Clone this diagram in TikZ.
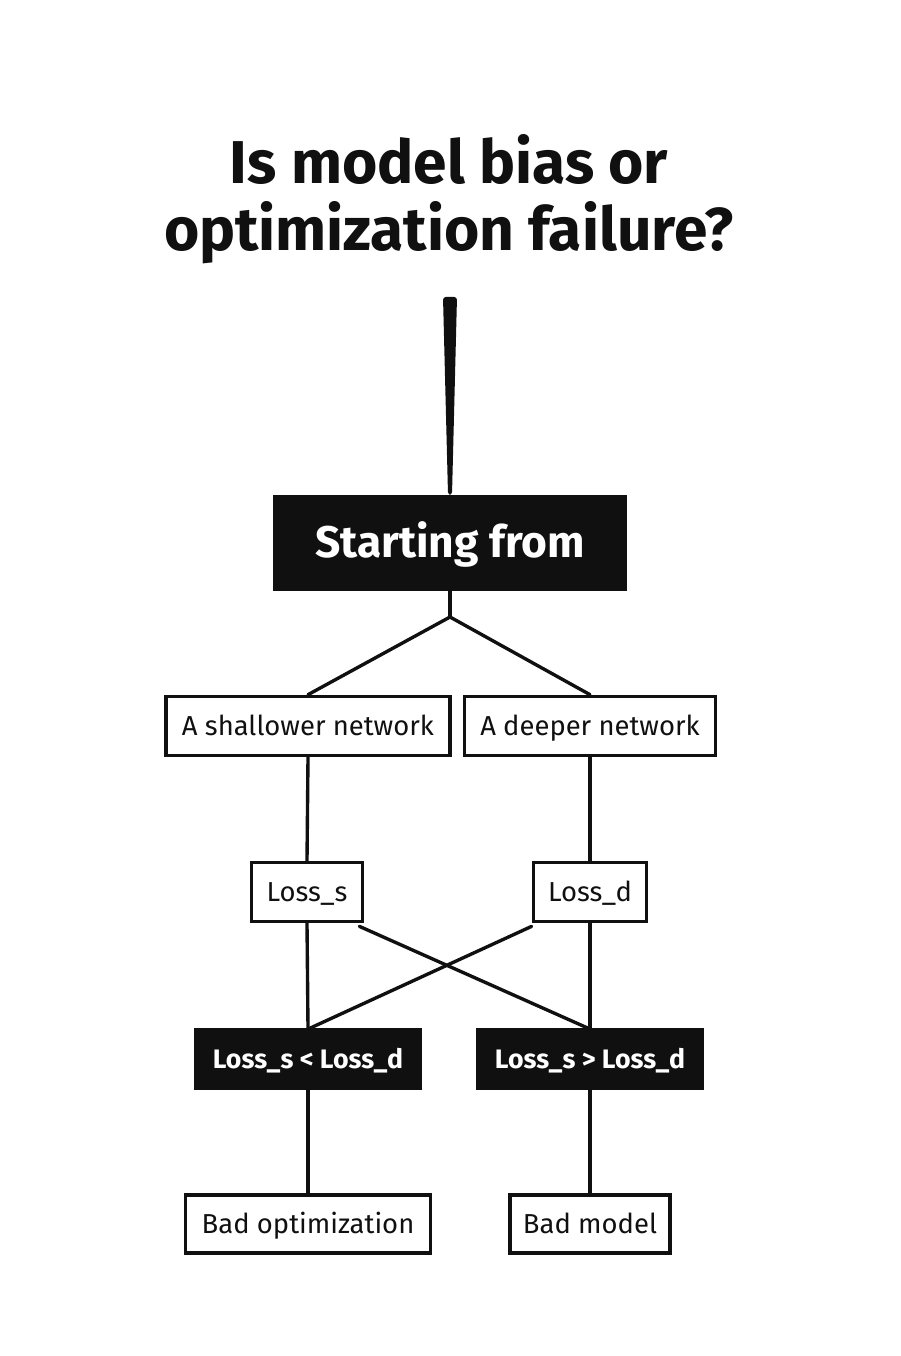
\documentclass[tikz,border=0pt]{standalone}
\usepackage{fontspec}
\setmainfont{Fira Sans}
\usepackage{tikz}
\usetikzlibrary{calc}
\definecolor{ink}{RGB}{16,16,16}
\tikzset{
  box/.style={draw=ink,line width=2.6pt,fill=white,inner sep=0pt,minimum height=14.75mm,text height=14pt,text depth=1pt,font=\fontsize{19.5}{22}\selectfont,text=ink},
  darkbox/.style={box,fill=ink,text=white,font=\fontsize{19}{22}\selectfont\bfseries},
  link/.style={draw=ink,line width=2.4pt,line cap=round}
}

\begin{document}
\begin{tikzpicture}[x=0.25mm,y=-0.25mm]
\useasboundingbox[fill=white] (0,0) rectangle (900,1356);
\node[font=\fontsize{43}{48}\selectfont\bfseries,text=ink,align=center] (title) at (449,199) {Is model bias or\\optimization failure?};
\coordinate (stemtop) at (450,297);
\node[darkbox,minimum width=87.5mm,minimum height=23.25mm,text height=22pt,text depth=2pt,font=\fontsize{31.5}{36}\selectfont\bfseries] (start) at (450,543) {Starting from};
\node[box,minimum width=71mm] (shallow) at (308,726) {A shallower network};
\node[box,minimum width=62.75mm] (deep) at (590,726) {A deeper network};
\node[box,minimum width=27.75mm] (losss) at (307,892) {Loss\_s};
\node[box,minimum width=28.25mm] (lossd) at (590,892) {Loss\_d};
\node[darkbox,minimum width=56mm,minimum height=14.5mm] (less) at (308,1059) {Loss\_s < Loss\_d};
\node[darkbox,minimum width=56mm,minimum height=14.5mm] (more) at (590,1059) {Loss\_s > Loss\_d};
\node[box,minimum width=61.25mm,minimum height=14.5mm] (badopt) at (308,1224) {Bad optimization};
\node[box,minimum width=40mm,minimum height=14.5mm] (badmodel) at (590,1224) {Bad model};
% tapered stem into the start box
\fill[ink,rounded corners=2pt] ($(stemtop)+(-7,0)$) -- ($(stemtop)+(7,0)$) -- ($(start.north)+(2,0)$) -- ($(start.north)+(-2,0)$) -- cycle;
\coordinate (fork) at (450,617);
\draw[link] (start.south) -- (fork);
\draw[link] (fork) -- (shallow.north);
\draw[link] (fork) -- (deep.north);
\draw[link] (shallow.south) -- (losss.north);
\draw[link] (deep.south) -- (lossd.north);
\draw[link] (losss.south) -- (less.north);
\draw[link] (lossd.south) -- (more.north);
\draw[link] ($(losss.south east)+(-5,3)$) -- ($(more.north)+(-2,0)$);
\draw[link] ($(lossd.south west)+(0,3)$) -- ($(less.north)+(2,0)$);
\draw[link] (less.south) -- (badopt.north);
\draw[link] (more.south) -- (badmodel.north);
\end{tikzpicture}
\end{document}
